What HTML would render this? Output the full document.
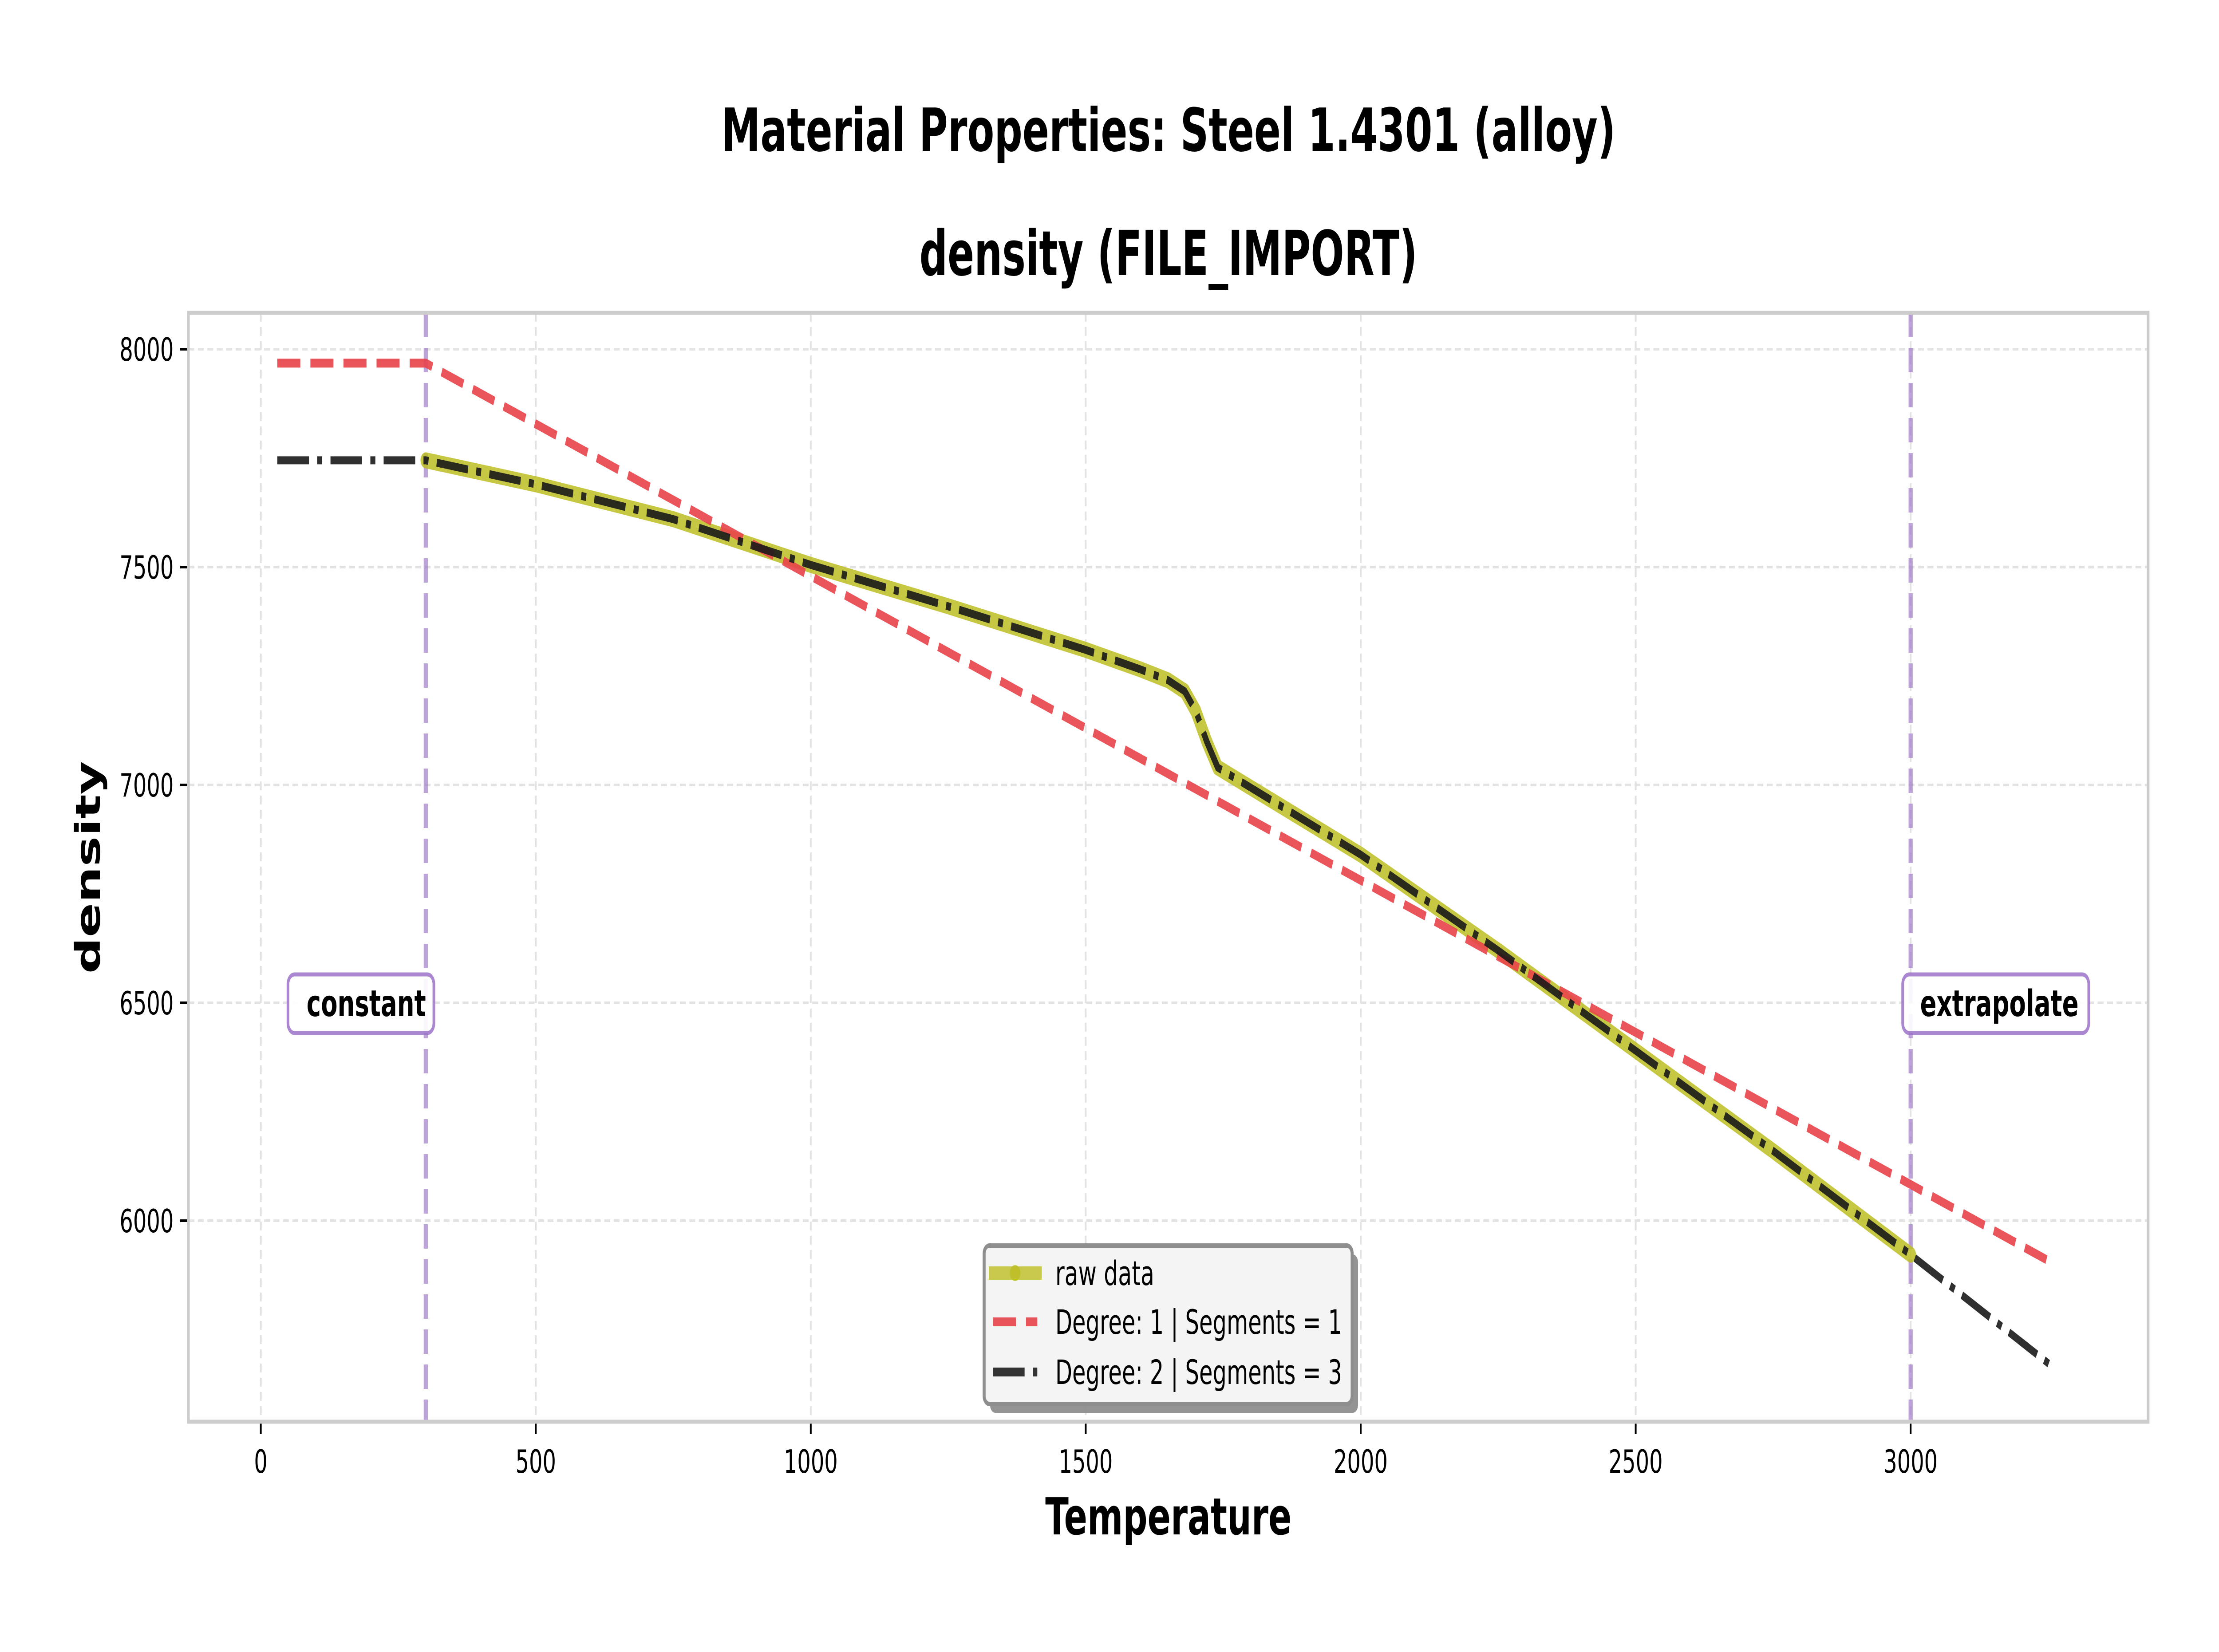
<!DOCTYPE html>
<html><head><meta charset="utf-8"><style>
html,body{margin:0;padding:0;background:#fff;width:100%;height:100%;overflow:hidden;}
svg{display:block;width:100vw;height:100vh;font-family:"DejaVu Sans","Liberation Sans",sans-serif;}
</style></head><body>
<svg id="chart" xmlns="http://www.w3.org/2000/svg" viewBox="0 0 7513 3723" preserveAspectRatio="none">
<rect width="7513" height="3723" fill="#fff"/>
<text x="3956" y="340" text-anchor="middle" font-weight="bold" font-size="134" textLength="3028" lengthAdjust="spacingAndGlyphs">Material Properties: Steel 1.4301 (alloy)</text>
<text x="3956" y="620" text-anchor="middle" font-weight="bold" font-size="140" textLength="1686" lengthAdjust="spacingAndGlyphs">density (FILE_IMPORT)</text>
<g id="grid"></g>
<g id="plot"></g>
<g id="axes"></g>
<text x="3956" y="3458" text-anchor="middle" font-weight="bold" font-size="115" textLength="834" lengthAdjust="spacingAndGlyphs">Temperature</text>
<text transform="translate(338,1955) rotate(-90)" text-anchor="middle" font-weight="bold" font-size="115" textLength="479" lengthAdjust="spacingAndGlyphs">density</text>
<g>
<rect x="3352" y="2827" width="1246" height="357" rx="18" fill="#888" opacity="0.9"/>
<rect x="3332" y="2807" width="1246" height="357" rx="18" fill="#f4f4f4" stroke="#8e8e8e" stroke-width="10"/>
<g>
<line x1="3348" y1="2869" x2="3527" y2="2869" stroke="#bcbd22" stroke-opacity="0.8" stroke-width="30"/>
<circle cx="3437" cy="2869" r="18" fill="#bcbd22" opacity="0.8"/>
<text x="3573" y="2896" font-size="76">raw data</text></g>
<g>
<line x1="3362" y1="2979" x2="3512" y2="2979" stroke="#e8424a" stroke-opacity="0.9" stroke-width="20" stroke-dasharray="78,34"/>
<text x="3573" y="3006" font-size="76" textLength="971" lengthAdjust="spacingAndGlyphs">Degree: 1 | Segments = 1</text></g>
<g>
<line x1="3362" y1="3092" x2="3512" y2="3092" stroke="#222" stroke-opacity="0.92" stroke-width="20" stroke-dasharray="107,28,17,28"/>
<text x="3573" y="3119" font-size="76" textLength="971" lengthAdjust="spacingAndGlyphs">Degree: 2 | Segments = 3</text></g>
</g>
</svg>
<script>
const xTicks=[0,500,1000,1500,2000,2500,3000];
const yTicks=[6000,6500,7000,7500,8000];
const rawT=[300,500,750,1000,1250,1500,1600,1650,1680,1700,1720,1740,2000,2250,2500,2750,3000];
const rawD=[7745,7690,7610,7505,7410,7310,7265,7240,7215,7170,7100,7040,6840,6620,6390,6160,5922];
const fit1T=[30,300,3255];
const fit1D=[7968,7968,5905];
const fit2T=[30,300,500,750,1000,1250,1500,1600,1650,1680,1700,1720,1740,2000,2250,2500,2750,3000,3255];
const fit2D=[7745,7745,7690,7610,7505,7410,7310,7265,7240,7215,7170,7100,7040,6840,6620,6390,6160,5922,5668];
const boundT=[300,3000];
const boundLabels=["constant","extrapolate"];

const L=638,R=7273,T=705,B=3204;
const X=v=>883+(v-0)*1.862;
const Y=v=>787+(8000-v)*0.982;
const NS="http://www.w3.org/2000/svg";
function mk(tag,attrs,parent){const e=document.createElementNS(NS,tag);for(const k in attrs)e.setAttribute(k,attrs[k]);parent.appendChild(e);return e;}
const grid=document.getElementById('grid'),plot=document.getElementById('plot'),axes=document.getElementById('axes');

xTicks.forEach(t=>{
  const g=mk('line',{x1:X(t),x2:X(t),y1:T,y2:B,stroke:'#e3e3e3','stroke-width':6,'stroke-dasharray':'20,12'},grid);
  
  
  const tk=mk('line',{x1:X(t),x2:X(t),y1:B,y2:B+28,stroke:'#000','stroke-width':6},axes);
  
  
  const lb=mk('text',{x:X(t),y:B+115,'text-anchor':'middle','font-size':72},axes);
  lb.textContent=t;
  
  
});
yTicks.forEach(t=>{
  const g=mk('line',{x1:L,x2:R,y1:Y(t),y2:Y(t),stroke:'#e3e3e3','stroke-width':6,'stroke-dasharray':'20,12'},grid);
  
  
  const tk=mk('line',{x1:L-28,x2:L,y1:Y(t),y2:Y(t),stroke:'#000','stroke-width':6},axes);
  
  
  const lb=mk('text',{x:L-50,y:Y(t)+26,'text-anchor':'end','font-size':72},axes);
  lb.textContent=t;
  
  
});
const spine=mk('rect',{x:L,y:T,width:R-L,height:B-T,fill:'none',stroke:'#cccccc','stroke-width':9},axes);



function pts(ts,ds){return ts.map((t,i)=>X(t).toFixed(1)+','+Y(ds[i]).toFixed(1)).join(' ');}
boundT.forEach((t,i)=>{
  const v=mk('line',{x1:X(t),x2:X(t),y1:T,y2:B,stroke:'#9b72c8','stroke-opacity':0.65,'stroke-width':14,'stroke-dasharray':'55,24'},plot);
  
  
});
const raw=mk('polyline',{points:pts(rawT,rawD),fill:'none',stroke:'#bcbd22','stroke-opacity':0.85,'stroke-width':36,'stroke-linejoin':'round','stroke-linecap':'round'},plot);


const f1=mk('polyline',{points:pts(fit1T,fit1D),fill:'none',stroke:'#e8424a','stroke-opacity':0.9,'stroke-width':20,'stroke-dasharray':'78,34'},plot);


const f2=mk('polyline',{points:pts(fit2T,fit2D),fill:'none',stroke:'#1a1a1a','stroke-opacity':0.9,'stroke-width':18,'stroke-dasharray':'107,28,17,28'},plot);



const ly=Y(6500);
[[975,494,1442,'end'],[6442,630,6501,'start']].forEach((b,i)=>{
  const r=mk('rect',{x:b[0],y:ly-64,width:b[1],height:132,rx:22,fill:'#fff','fill-opacity':0.9,stroke:'#9b72c8','stroke-opacity':0.85,'stroke-width':9},plot);
  
  
  const tx=mk('text',{x:b[2],y:ly+30,'text-anchor':b[3],'font-size':82,'font-weight':'bold'},plot);
  tx.textContent=boundLabels[i];
  
  
});
</script>
</body></html>
